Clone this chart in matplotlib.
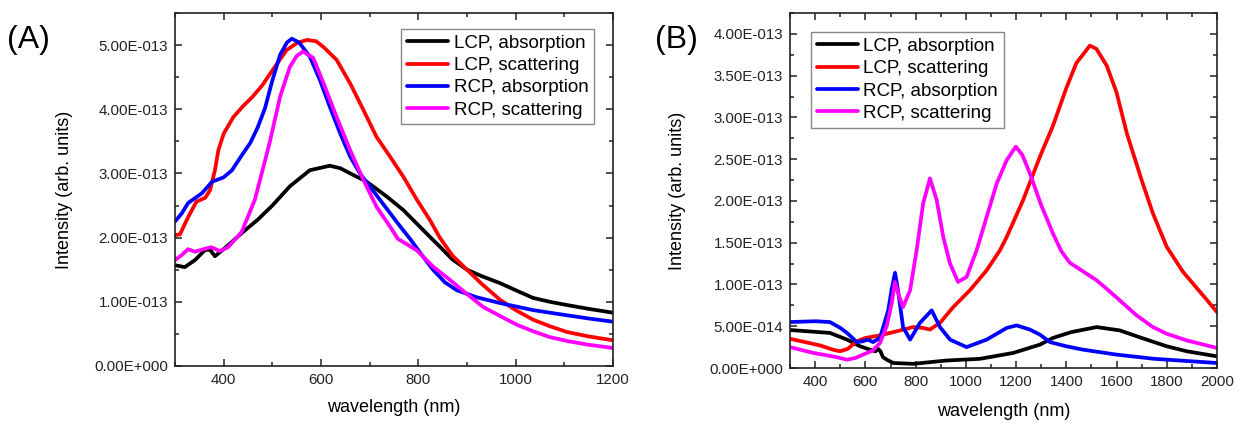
import numpy as np
import matplotlib
matplotlib.use("Agg")
import matplotlib.pyplot as plt
from matplotlib.ticker import MultipleLocator, FuncFormatter

plt.rcParams['font.family'] = ['Liberation Sans', 'DejaVu Sans']

SCALE = 1e-13  # intensities below are given in units of 1e-13

# ---- panel A ----
a_lcp_abs_wl = [300, 320, 341, 362, 372, 382, 403, 437, 470, 500, 536, 577, 618, 640, 660,
                694, 735, 769, 803, 824, 844, 870, 900, 930, 968, 1000, 1036, 1070, 1105, 1150, 1200]
a_lcp_abs = [1.57, 1.54, 1.65, 1.81, 1.81, 1.71, 1.84, 2.07, 2.28, 2.5, 2.8, 3.05, 3.12, 3.08, 3.0,
             2.87, 2.64, 2.43, 2.17, 2.01, 1.86, 1.66, 1.5, 1.4, 1.29, 1.18, 1.06, 1.0, 0.95, 0.89, 0.83]

a_lcp_sca_wl = [300, 310, 327, 344, 362, 372, 382, 389, 400, 420, 440, 460, 480, 495, 529, 550, 571,
                590, 605, 632, 660, 687, 714, 742, 769, 797, 824, 844, 870, 900, 930, 968, 1000,
                1036, 1070, 1105, 1150, 1200]
a_lcp_sca = [2.04, 2.05, 2.32, 2.56, 2.62, 2.74, 3.05, 3.36, 3.62, 3.88, 4.05, 4.2, 4.38, 4.55, 4.92,
             5.03, 5.08, 5.06, 4.97, 4.77, 4.4, 3.99, 3.57, 3.26, 2.95, 2.59, 2.27, 2.0, 1.72, 1.5,
             1.28, 1.03, 0.87, 0.72, 0.62, 0.53, 0.46, 0.4]

a_rcp_abs_wl = [300, 314, 327, 355, 376, 400, 417, 437, 455, 470, 485, 500, 516, 530, 540, 555, 577,
                598, 618, 639, 660, 680, 701, 735, 760, 783, 808, 830, 855, 879, 920, 968, 1036,
                1105, 1150, 1200]
a_rcp_abs = [2.25, 2.38, 2.54, 2.69, 2.87, 2.94, 3.05, 3.28, 3.48, 3.72, 4.02, 4.45, 4.85, 5.04, 5.1,
             5.04, 4.82, 4.45, 4.04, 3.63, 3.26, 3.0, 2.79, 2.45, 2.2, 1.98, 1.72, 1.5, 1.3, 1.18,
             1.07, 0.98, 0.87, 0.79, 0.74, 0.69]

a_rcp_sca_wl = [300, 314, 327, 341, 368, 375, 392, 409, 437, 464, 485, 495, 516, 536, 550, 563, 584,
                605, 632, 660, 687, 714, 742, 758, 780, 797, 830, 865, 900, 933, 970, 1003, 1036,
                1070, 1105, 1150, 1200]
a_rcp_sca = [1.65, 1.73, 1.82, 1.78, 1.84, 1.85, 1.79, 1.85, 2.09, 2.59, 3.2, 3.5, 4.2, 4.66, 4.83,
             4.9, 4.8, 4.41, 3.88, 3.36, 2.9, 2.48, 2.17, 1.98, 1.88, 1.8, 1.55, 1.34, 1.12, 0.92,
             0.77, 0.64, 0.54, 0.45, 0.39, 0.33, 0.28]

# ---- panel B ----
b_lcp_abs_wl = [300, 459, 527, 579, 618, 640, 650, 660, 670, 685, 711, 790, 857, 924, 1056, 1188,
                1295, 1347, 1420, 1521, 1613, 1700, 1800, 1880, 2000]
b_lcp_abs = [0.455, 0.42, 0.34, 0.26, 0.22, 0.2, 0.23, 0.2, 0.13, 0.1, 0.06, 0.05, 0.07, 0.09, 0.11,
             0.18, 0.28, 0.36, 0.43, 0.49, 0.45, 0.36, 0.26, 0.2, 0.14]

b_lcp_sca_wl = [300, 360, 420, 470, 499, 530, 566, 600, 658, 725, 790, 830, 857, 897, 950, 1016,
                1083, 1136, 1163, 1228, 1295, 1347, 1400, 1440, 1494, 1520, 1561, 1600, 1641, 1700,
                1745, 1800, 1865, 1950, 2000]
b_lcp_sca = [0.35, 0.31, 0.27, 0.22, 0.2, 0.23, 0.32, 0.36, 0.39, 0.44, 0.49, 0.48, 0.46, 0.54, 0.73,
             0.93, 1.17, 1.41, 1.57, 2.01, 2.53, 2.9, 3.35, 3.65, 3.86, 3.82, 3.62, 3.3, 2.81, 2.25,
             1.85, 1.45, 1.15, 0.85, 0.67]

b_rcp_abs_wl = [300, 400, 459, 500, 527, 566, 590, 610, 630, 658, 691, 705, 718, 730, 750, 778, 817,
                864, 897, 937, 1003, 1083, 1163, 1202, 1255, 1295, 1335, 1400, 1466, 1601, 1750, 2000]
b_rcp_abs = [0.55, 0.56, 0.55, 0.48, 0.42, 0.31, 0.32, 0.34, 0.31, 0.36, 0.69, 0.95, 1.14, 0.93,
             0.49, 0.34, 0.54, 0.69, 0.49, 0.34, 0.25, 0.34, 0.48, 0.51, 0.46, 0.4, 0.31, 0.26,
             0.22, 0.16, 0.11, 0.06]

b_rcp_sca_wl = [300, 393, 450, 500, 527, 560, 590, 630, 658, 685, 705, 718, 730, 750, 778, 804, 830,
                857, 884, 910, 937, 969, 1003, 1043, 1083, 1123, 1163, 1199, 1225, 1255, 1300, 1347,
                1380, 1414, 1460, 1521, 1560, 1613, 1680, 1745, 1800, 1880, 2000]
b_rcp_sca = [0.25, 0.18, 0.15, 0.12, 0.1, 0.12, 0.16, 0.21, 0.3, 0.5, 0.78, 1.03, 0.9, 0.73, 0.93,
             1.41, 1.97, 2.27, 2.01, 1.57, 1.25, 1.03, 1.09, 1.41, 1.81, 2.21, 2.49, 2.65, 2.55,
             2.33, 1.95, 1.61, 1.4, 1.26, 1.17, 1.05, 0.95, 0.81, 0.63, 0.49, 0.41, 0.33, 0.24]

labels = ['LCP, absorption', 'LCP, scattering', 'RCP, absorption', 'RCP, scattering']
colors = ['#000000', '#ff0000', '#0000ff', '#ff00ff']


def sci_fmt(v, pos):
    m, e = f"{v:.2E}".split('E')
    return f"{m}E{int(e):+04d}"


def style_axes(ax, xlim, ylim, xmajor, ymajor, yminor):
    ax.set_xlim(*xlim)
    ax.set_ylim(*ylim)
    ax.xaxis.set_major_locator(MultipleLocator(xmajor))
    ax.xaxis.set_minor_locator(MultipleLocator(xmajor / 2))
    ax.yaxis.set_major_locator(MultipleLocator(ymajor))
    ax.yaxis.set_minor_locator(MultipleLocator(yminor))
    ax.yaxis.set_major_formatter(FuncFormatter(sci_fmt))
    ax.tick_params(which='both', direction='in', top=True, right=True,
                   labelsize=10.8, width=1.1, colors='#222222')
    ax.tick_params(which='major', length=4.8, pad=5)
    ax.tick_params(which='minor', length=2.6)
    for sp in ax.spines.values():
        sp.set_linewidth(1.2)
        sp.set_color('#222222')
    ax.set_xlabel('wavelength (nm)', fontsize=13)
    ax.set_ylabel('Intensity (arb. units)', fontsize=13)


fig = plt.figure(figsize=(12.36, 4.23), dpi=100)
axA = fig.add_axes([0.1416, 0.1348, 0.4960 - 0.1416, 0.9693 - 0.1348])
axB = fig.add_axes([0.6392, 0.1300, 0.9846 - 0.6392, 0.9693 - 0.1300])

dataA = [(a_lcp_abs_wl, a_lcp_abs), (a_lcp_sca_wl, a_lcp_sca),
         (a_rcp_abs_wl, a_rcp_abs), (a_rcp_sca_wl, a_rcp_sca)]
dataB = [(b_lcp_abs_wl, b_lcp_abs), (b_lcp_sca_wl, b_lcp_sca),
         (b_rcp_abs_wl, b_rcp_abs), (b_rcp_sca_wl, b_rcp_sca)]

for ax, data in [(axA, dataA), (axB, dataB)]:
    for (wl, val), lab, col in zip(data, labels, colors):
        ax.plot(wl, np.array(val) * SCALE, color=col, lw=2.7, label=lab,
                solid_joinstyle='round', solid_capstyle='round')

style_axes(axA, (300, 1200), (0, 5.5e-13), 200, 1e-13, 0.5e-13)
style_axes(axB, (300, 2000), (0, 4.25e-13), 200, 0.5e-13, 0.25e-13)

axA.yaxis.set_label_coords(-0.233, 0.5)
axA.xaxis.set_label_coords(0.5, -0.093)
axB.yaxis.set_label_coords(-0.243, 0.5)
axB.xaxis.set_label_coords(0.5, -0.099)

leg_kw = dict(fontsize=13.5, frameon=True, fancybox=False, framealpha=1,
              edgecolor='#888888', borderaxespad=0, handlelength=2.2,
              handletextpad=0.3, labelspacing=0.28, borderpad=0.3)
legA = axA.legend(loc='upper right', bbox_to_anchor=(0.9566, 0.9547), **leg_kw)
legB = axB.legend(loc='upper left', bbox_to_anchor=(0.049, 0.946), **leg_kw)
for leg in (legA, legB):
    leg.get_frame().set_linewidth(1.0)

fig.text(0.006, 0.905, '(A)', fontsize=23, va='center', ha='left')
fig.text(0.530, 0.905, '(B)', fontsize=23, va='center', ha='left')

fig.savefig('out.png', dpi=100)
